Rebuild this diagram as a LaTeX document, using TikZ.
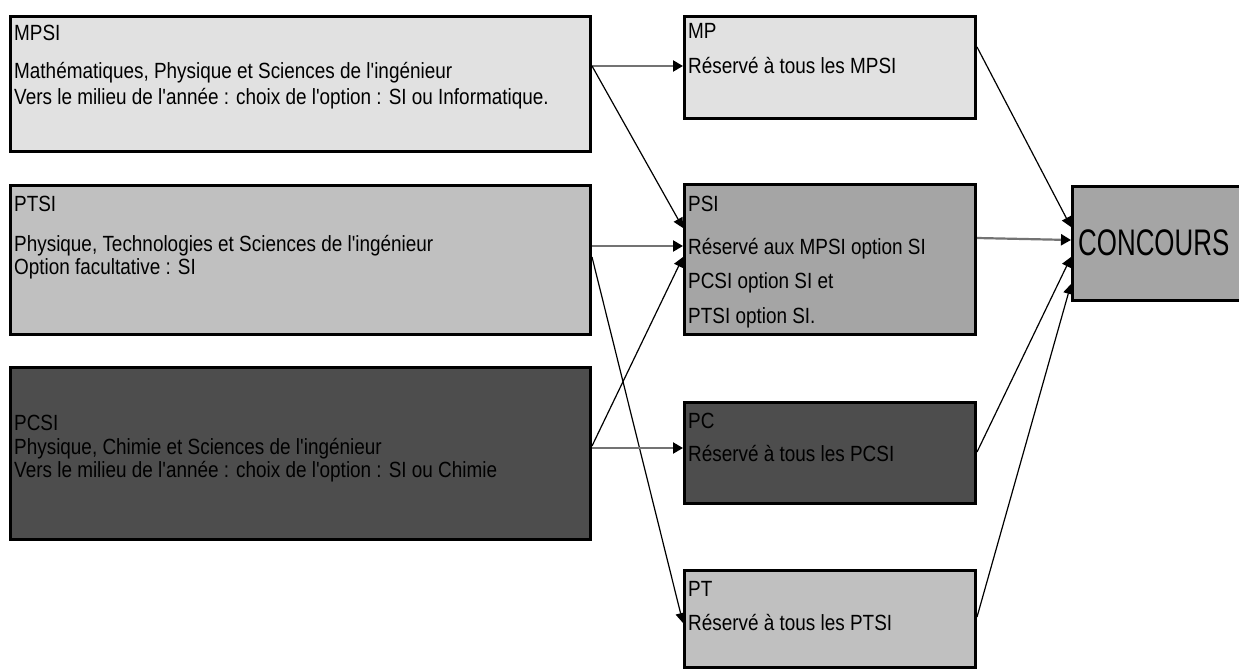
\documentclass[tikz,border=0pt]{standalone}
\usepackage{fontspec}
\setmainfont{Liberation Sans}
\newfontfamily\boxfont{Liberation Sans}[FakeStretch=0.86]
\newfontfamily\bigfont{Liberation Sans}[FakeStretch=0.70]
\usetikzlibrary{arrows.meta,calc}
\definecolor{lightg}{HTML}{E1E1E1}
\definecolor{midg}{HTML}{C0C0C0}
\definecolor{darkg}{HTML}{A5A5A5}
\definecolor{deepg}{HTML}{4D4D4D}
\begin{document}
\begin{tikzpicture}[x=1pt,y=-1pt,
  box/.style={draw=black, line width=3pt, inner sep=0pt, anchor=north west, rectangle},
  txt/.style={anchor=base west, inner sep=0pt, font=\boxfont\fontsize{22}{26}\selectfont},
  bigtxt/.style={anchor=base west, inner sep=0pt, font=\bigfont\fontsize{37}{40}\selectfont},
  conn/.style={line width=1.2pt, -{Triangle[length=10pt,width=10pt]}},
  hconn/.style={line width=2.2pt, draw=black!55, -{Triangle[length=10pt,width=11pt,color=black]}}
]
\useasboundingbox (0,0) rectangle (1239,669);
\fill[white] (0,0) rectangle (1239,669);

% boxes
\node[box, fill=lightg, minimum width=580pt, minimum height=135pt] (mpsi) at (9,15) {};
\node[box, fill=midg,   minimum width=580pt, minimum height=149pt] (ptsi) at (9,184) {};
\node[box, fill=deepg,  minimum width=580pt, minimum height=172pt] (pcsi) at (9,366) {};
\node[box, fill=lightg, minimum width=291pt, minimum height=102pt] (mp) at (683,15) {};
\node[box, fill=darkg,  minimum width=291pt, minimum height=150pt] (psi) at (683,183) {};
\node[box, fill=deepg,  minimum width=291pt, minimum height=101pt] (pc) at (683,401) {};
\node[box, fill=midg,   minimum width=291pt, minimum height=97pt] (pt) at (683,569) {};
\node[box, fill=darkg,  minimum width=190pt, minimum height=114pt] (concours) at (1071,185) {};

% texts
\node[txt] (t-mpsi1) at ($(mpsi.north west)+(5,26)$) {MPSI};
\node[txt] (t-mpsi2) at ($(mpsi.north west)+(5,63)$) {Mathématiques, Physique et Sciences de l'ingénieur};
\node[txt] (t-mpsi3) at ($(mpsi.north west)+(5,89)$) {Vers le milieu de l'année : choix de l'option : SI ou Informatique.};

\node[txt] (t-ptsi1) at ($(ptsi.north west)+(5,27)$) {PTSI};
\node[txt] (t-ptsi2) at ($(ptsi.north west)+(5,67)$) {Physique, Technologies et Sciences de l'ingénieur};
\node[txt] (t-ptsi3) at ($(ptsi.north west)+(5,90)$) {Option facultative : SI};

\node[txt] (t-pcsi1) at ($(pcsi.north west)+(5,64)$) {PCSI};
\node[txt] (t-pcsi2) at ($(pcsi.north west)+(5,88)$) {Physique, Chimie et Sciences de l'ingénieur};
\node[txt] (t-pcsi3) at ($(pcsi.north west)+(5,111)$) {Vers le milieu de l'année : choix de l'option : SI ou Chimie};

\node[txt] (t-mp1) at ($(mp.north west)+(5,23)$) {MP};
\node[txt] (t-mp2) at ($(mp.north west)+(5,59)$) {Réservé à tous les MPSI};

\node[txt] (t-psi1) at ($(psi.north west)+(5,28)$) {PSI};
\node[txt] (t-psi2) at ($(psi.north west)+(5,71)$) {Réservé aux MPSI option SI};
\node[txt] (t-psi3) at ($(psi.north west)+(5,105)$) {PCSI option SI et};
\node[txt] (t-psi4) at ($(psi.north west)+(5,140)$) {PTSI option SI.};

\node[txt] (t-pc1) at ($(pc.north west)+(5,27)$) {PC};
\node[txt] (t-pc2) at ($(pc.north west)+(5,60)$) {Réservé à tous les PCSI};

\node[txt] (t-pt1) at ($(pt.north west)+(5,27)$) {PT};
\node[txt] (t-pt2) at ($(pt.north west)+(5,61)$) {Réservé à tous les PTSI};

\node[bigtxt] (t-conc) at ($(concours.north west)+(7,70)$) {CONCOURS};

% connectors
\draw[hconn] ($(mpsi.north east)+(0,51)$) -- ($(mp.north west)+(0,51)$);
\draw[conn]  ($(mpsi.north east)+(0,51)$) -- ($(psi.north west)+(0,45)$);
\draw[hconn] ($(ptsi.north east)+(0,62)$) -- ($(psi.north west)+(0,63)$);
\draw[conn]  ($(ptsi.north east)+(0,73)$) -- ($(pt.north west)+(0,54)$);
\draw[conn]  ($(pcsi.north east)+(0,80)$) -- ($(psi.north west)+(0,74)$);
\draw[hconn] ($(pcsi.north east)+(0,82)$) -- ($(pc.north west)+(0,47)$);
\draw[conn]  ($(mp.north east)+(0,32)$) -- ($(concours.north west)+(0,42)$);
\draw[hconn] ($(psi.north east)+(0,55)$) -- ($(concours.north west)+(0,55)$);
\draw[conn]  ($(pc.north east)+(0,51)$) -- ($(concours.north west)+(0,72)$);
\draw[conn]  ($(pt.north east)+(0,48)$) -- ($(concours.north west)+(0,99)$);
\end{tikzpicture}
\end{document}
